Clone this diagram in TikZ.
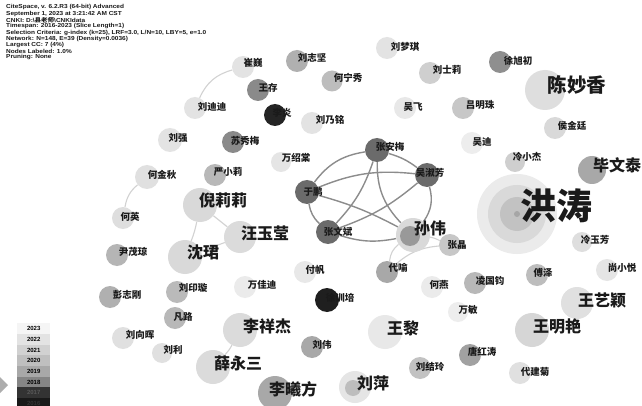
\documentclass[tikz,border=0pt]{standalone}
\usepackage{fontspec}
\setmainfont{Liberation Sans}
\newfontfamily\cjk{Noto Sans CJK SC}
\usetikzlibrary{backgrounds}
\definecolor{lblc}{HTML}{1A1A1A}
\definecolor{cedge}{HTML}{8C8C8C}
\definecolor{pedge}{HTML}{D2D2D2}
\tikzset{
  dot/.style={circle,inner sep=0pt,draw=none,minimum size=#1},
  lbl/.style={inner sep=0pt,text=lblc},
  sm/.style={font=\cjk\bfseries\fontsize{9.5}{10}\selectfont},
  md/.style={font=\cjk\bfseries\fontsize{16}{17}\selectfont},
  lg/.style={font=\cjk\bfseries\fontsize{19.5}{20}\selectfont},
  xl/.style={font=\cjk\bfseries\fontsize{36}{37}\selectfont},
  cl/.style={draw=cedge,line width=1.4pt},
  pl/.style={draw=pedge,line width=1.1pt},
  yr/.style={inner sep=0pt,minimum width=33pt,minimum height=10.7pt,anchor=north west,font=\bfseries\fontsize{6}{6}\selectfont},
}
% name, x, y, diameter, fill, label x, label y, size style, text
\newcommand\au[9]{%
  \node[dot=#4,fill=#5] (#1) at (#2,#3) {};
  \node[lbl,#8] (#1l) at (#6,#7) {#9};}
\begin{document}
\begin{tikzpicture}[x=1pt,y=-1pt]
\useasboundingbox (0,0) rectangle (642,406);
% header
\node[anchor=north west,inner sep=0pt,align=left,text=lblc,xscale=1.12,transform shape,font=\bfseries\fontsize{5.8}{5.15}\selectfont] (hdr) at (6,4.5)
{CiteSpace, v. 6.2.R3 (64-bit) Advanced\\
September 1, 2023 at 3:21:42 AM CST\\
CNKI: D:\textbackslash{}{\cjk 县老师}\textbackslash{}CNKIdata\\
Timespan: 2016-2023 (Slice Length=1)\\
Selection Criteria: g-index (k=25), LRF=3.0, L/N=10, LBY=5, e=1.0\\
Network: N=148, E=39 (Density=0.0036)\\
Largest CC: 7 (4\%)\\
Nodes Labeled: 1.0\%\\
Pruning: None};

% ---- Hong Tao rings
\node[dot=80,fill=black!8] (ht) at (517,214) {};
\node[dot=58,fill=black!15] (ht2) at (517,214) {};
\node[dot=34,fill=black!24] (ht3) at (517,214) {};
\node[dot=6,fill=black!35] (ht4) at (517,214) {};
\node[lbl,xl] (htl) at (556,206) {洪涛};

% ---- top
\au{lzj}{297}{61}{22}{black!31}{312}{58}{sm}{刘志坚}
\au{cw}{243}{67}{22}{black!11}{253}{63}{sm}{崔巍}
\au{hnx}{332}{81}{21}{black!26}{348}{78}{sm}{何宁秀}
\au{wc}{258}{90}{22}{black!46}{268}{88}{sm}{王存}
\au{ldd}{195}{108}{22}{black!11}{212}{107}{sm}{刘迪迪}
\au{ly}{275}{115}{22}{black!86}{282}{113}{sm}{李炎}
\au{lnm}{312}{123}{22}{black!11}{330}{120}{sm}{刘乃铭}
\au{lmq}{387}{48}{22}{black!11}{405}{47}{sm}{刘梦琪}
\au{lsl}{430}{73}{22}{black!19}{447}{70}{sm}{刘士莉}
\au{xxc}{500}{62}{22}{black!44}{518}{61}{sm}{徐旭初}
\au{cmx}{545}{90}{40}{black!13}{577}{85}{lg}{陈妙香}
\au{wf}{405}{108}{22}{black!9}{413}{107}{sm}{吴飞}
\au{lmz}{463}{108}{22}{black!22}{480}{105}{sm}{吕明珠}
\au{hjt}{555}{128}{22}{black!15}{572}{126}{sm}{侯金廷}
\au{wd}{472}{143}{22}{black!7}{482}{142}{sm}{吴迪}
\au{lxj}{515}{162}{20}{black!19}{527}{157}{sm}{冷小杰}
\au{bwt}{592}{170}{28}{black!34}{617}{165}{md}{毕文泰}
\au{lyf}{582}{242}{20}{black!13}{595}{240}{sm}{冷玉芳}
\au{sxy}{607}{270}{22}{black!10}{622}{268}{sm}{尚小悦}
\au{fz}{537}{275}{22}{black!26}{543}{273}{sm}{傅泽}
\au{lgj}{475}{283}{22}{black!28}{490}{281}{sm}{凌国钧}
\au{wyy}{577}{303}{32}{black!12}{602}{300}{md}{王艺颖}
\au{wm}{458}{312}{20}{black!7}{468}{310}{sm}{万敏}
\au{wmy}{532}{330}{34}{black!16}{557}{326}{md}{王明艳}
\au{tht}{470}{355}{22}{black!37}{482}{352}{sm}{唐红涛}
\au{djj}{520}{373}{22}{black!12}{535}{372}{sm}{代建菊}

% ---- central cluster
\au{zam}{377}{150}{24}{black!58}{390}{147}{sm}{张安梅}
\au{wsf}{427}{175}{24}{black!58}{430}{173}{sm}{吴淑芳}
\au{yp}{307}{192}{24}{black!58}{313}{192}{sm}{于鹏}
\au{zwb}{328}{232}{24}{black!58}{338}{232}{sm}{张文斌}
\node[dot=34,fill=black!15] (sw) at (413,235) {};
\node[dot=20,fill=black!40] (sw2) at (410,236) {};
\node[lbl,md] (swl) at (430,228) {孙伟};
\au{zj}{450}{245}{22}{black!22}{457}{245}{sm}{张晶}
\au{dy}{387}{272}{22}{black!34}{398}{268}{sm}{代喻}

% ---- left
\au{lq}{170}{140}{24}{black!11}{178}{138}{sm}{刘强}
\au{sxm}{233}{142}{22}{black!46}{245}{141}{sm}{苏秀梅}
\au{wst}{281}{162}{20}{black!10}{296}{158}{sm}{万绍棠}
\au{yxl}{215}{175}{22}{black!28}{228}{172}{sm}{严小莉}
\au{hjq}{147}{177}{24}{black!12}{162}{175}{sm}{何金秋}
\au{hy}{123}{218}{22}{black!13}{130}{217}{sm}{何英}
\au{nll}{200}{205}{34}{black!15}{223}{200}{md}{倪莉莉}
\au{wyyy}{240}{237}{32}{black!14}{265}{233}{md}{汪玉莹}
\au{sj}{185}{257}{34}{black!15}{203}{252}{md}{沈珺}
\au{ymq}{117}{255}{22}{black!29}{133}{252}{sm}{尹茂琼}
\au{wjd}{245}{287}{22}{black!8}{262}{285}{sm}{万佳迪}
\au{lyx}{177}{292}{22}{black!27}{193}{288}{sm}{刘印璇}
\au{pzg}{110}{297}{22}{black!31}{127}{295}{sm}{彭志刚}
\au{fl}{175}{318}{22}{black!28}{183}{317}{sm}{凡路}
\au{lxh}{123}{338}{22}{black!12}{140}{335}{sm}{刘向晖}
\au{lxjj}{240}{330}{34}{black!14}{267}{326}{md}{李祥杰}
\au{ll}{162}{353}{20}{black!12}{173}{350}{sm}{刘利}
\au{xys}{213}{367}{34}{black!14}{238}{363}{md}{薛永三}
\au{lxf}{275}{393}{34}{black!34}{293}{389}{md}{李曦方}
\node[dot=32,fill=black!10] (lp) at (355,387) {};
\node[dot=16,fill=black!26] (lp2) at (353,388) {};
\node[lbl,md] (lpl) at (373,383) {刘萍};
\au{lw}{312}{347}{22}{black!34}{322}{345}{sm}{刘伟}
\au{wl}{385}{332}{34}{black!9}{403}{328}{md}{王黎}
\au{ff}{305}{272}{22}{black!9}{315}{270}{sm}{付帆}
\au{xxp}{327}{300}{24}{black!88}{340}{298}{sm}{徐训培}
\au{hya}{432}{287}{22}{black!8}{439}{285}{sm}{何燕}
\au{ljl}{420}{368}{22}{black!24}{430}{367}{sm}{刘结玲}

% ---- edges
\begin{scope}[on background layer]
\fill[white] (0,0) rectangle (642,406);
\draw[cl] (zam) to[bend left=10] (wsf);
\draw[cl] (zam) to[bend right=22] (yp);
\draw[cl] (zam) to[bend left=12] (zwb);
\draw[cl] (zam) to[bend right=22] (sw);
\draw[cl] (wsf) to[bend right=14] (yp);
\draw[cl] (wsf) to[bend left=10] (zwb);
\draw[cl] (wsf) to[bend left=25] (sw);
\draw[cl] (yp) to[bend right=18] (zwb);
\draw[cl] (yp) to[bend left=6] (sw);
\draw[cl] (zwb) to[bend right=14] (sw);
\draw[pl] (sw) to[bend left=8] (zj);
\draw[pl] (sw) to[bend right=22] (dy);
\draw[pl] (dy) to[bend left=18] (zj);
\draw[pl] (cw) to[bend right=25] (ldd);
\draw[pl] (hjq) to[bend right=20] (hy);
\draw[pl] (nll) to[bend left=5] (sj);
\draw[pl] (nll) to (wyyy);
\draw[pl] (wyyy) to (sj);
\draw[pl] (lxjj) to[bend left=8] (xys);
\end{scope}

% ---- legend
\fill[black!32] (0,377) -- (8,385) -- (0,393) -- cycle;
\node[yr,fill=black!4] (y23) at (17,323) {2023};
\node[yr,fill=black!11] (y22) at (17,333.7) {2022};
\node[yr,fill=black!18] (y21) at (17,344.4) {2021};
\node[yr,fill=black!25] (y20) at (17,355.1) {2020};
\node[yr,fill=black!34] (y19) at (17,365.8) {2019};
\node[yr,fill=black!48] (y18) at (17,376.5) {2018};
\node[yr,fill=black!80,text=black!65] (y17) at (17,387.2) {2017};
\node[yr,fill=black!90,text=black!80] (y16) at (17,397.9) {2016};
\end{tikzpicture}
\end{document}
